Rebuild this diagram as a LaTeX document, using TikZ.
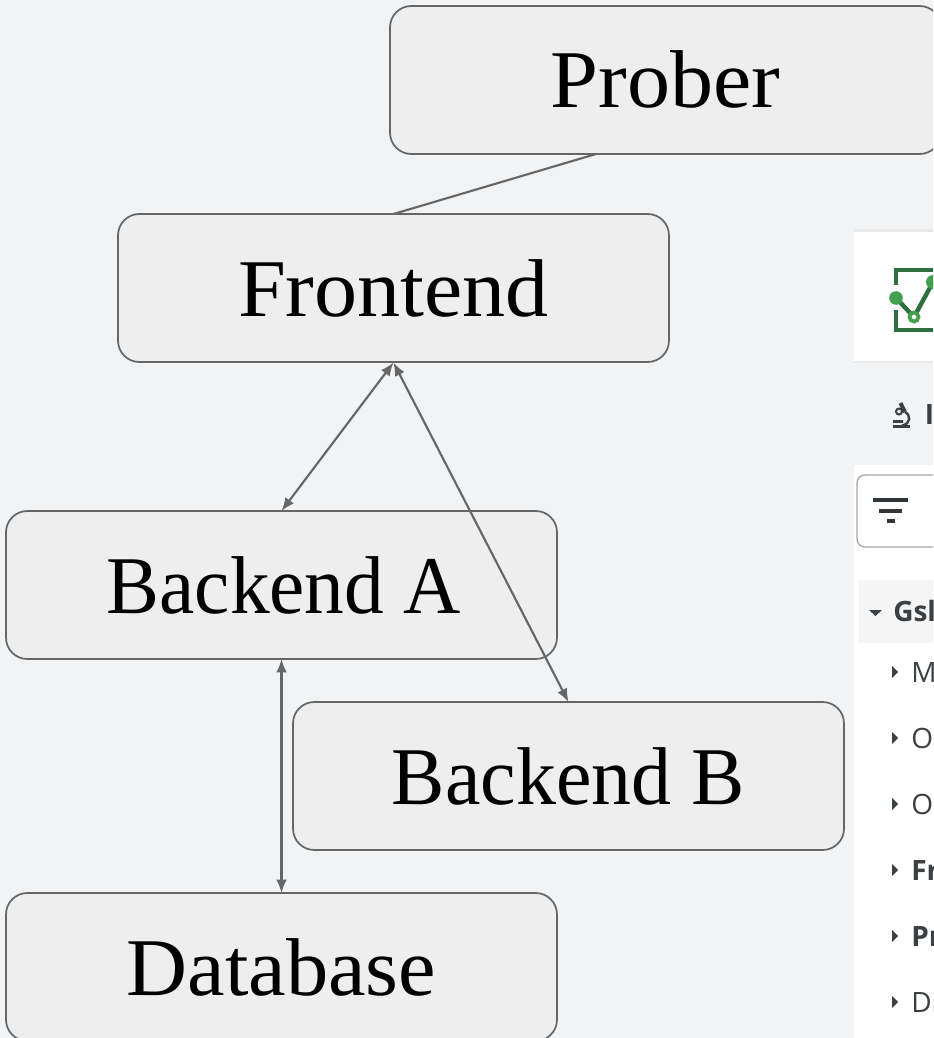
\documentclass[tikz,border=0pt]{standalone}
\usepackage{fontspec}
\setmainfont{Liberation Serif}
\newfontfamily\uifont{Open Sans}
\usetikzlibrary{arrows.meta}
\definecolor{pagebg}{HTML}{F1F3F5}
\definecolor{boxfill}{HTML}{EEEEEE}
\definecolor{edgecol}{HTML}{666666}
\definecolor{bandcol}{HTML}{F1F3F4}
\definecolor{rowcol}{HTML}{F5F5F5}
\definecolor{uitext}{HTML}{3C4043}
\definecolor{logodark}{HTML}{2F6F3E}
\definecolor{logolight}{HTML}{43A04F}
\newcommand{\svclabel}[2]{\scalebox{#1}[1]{#2}}
\tikzset{
  x=0.75pt, y=-0.75pt,
  svcbox/.style={draw=edgecol, fill=boxfill, line width=1.3pt, rounded corners=16pt,
    minimum width=413.25pt, minimum height=111pt, outer sep=0pt, inner sep=0pt,
    text height=42pt, text depth=0pt,
    font=\fontsize{61.5}{66}\selectfont, text=black},
  link/.style={draw=edgecol, line width=1.6pt},
  tip/.style={{Latex[length=10pt,width=8pt]}-{Latex[length=10pt,width=8pt]}},
  uilabel/.style={anchor=base west, inner sep=0pt, text=uitext, font=\uifont\fontsize{21}{24}\selectfont},
  uibold/.style={uilabel, font=\uifont\bfseries\fontsize{21}{24}\selectfont},
  caret/.style={fill=uitext, draw=none},
}
\begin{document}
\begin{tikzpicture}
\useasboundingbox (0,0) rectangle (933,1038);
\clip (0,0) rectangle (933,1038);
\fill[pagebg] (0,0) rectangle (933,1038);
% screenshot panel
\fill[white] (854,231) rectangle (933,1038);
\fill[black!9] (854,229) rectangle (933,232);
\fill[bandcol] (854,362) rectangle (933,465);
\fill[black!8] (854,361) rectangle (933,363);
% logo
\draw[logodark, line width=3pt] (935,270) -- (895.5,270) -- (895.5,285);
\draw[logodark, line width=3pt] (895.5,310) -- (895.5,330) -- (935,330);
\draw[logodark, line width=3.3pt] (896,298) -- (914,317) -- (933,282);
\fill[logolight] (896,298) circle (6.8);
\draw[logolight, fill=white, line width=2.8pt] (914,317) circle (4.5);
\fill[logolight] (933,282) circle (7);
% microscope icon
\draw[uitext, line width=3pt] (900.5,403) -- (905,412);
\draw[uitext, line width=1.5pt] (899,411.5) circle (3);
\draw[uitext, line width=1.8pt] (905,412) .. controls (911,415) and (911,424) .. (902,425.5);
\fill[uitext] (893,420) rectangle (903,422.5);
\fill[uitext] (893,425) rectangle (910,428);
\node[uibold] (tabtext) at (924.5,424) {I};
% filter box
\draw[black!35, fill=white, line width=1pt, rounded corners=6pt] (857,475) -- (857,547) -- (945,547) -- (945,475) -- cycle;
\fill[uitext!85!black] (873,498) rectangle (908,502);
\fill[uitext!85!black] (879,509) rectangle (902,513);
\fill[uitext!85!black] (887,519) rectangle (895,523);
% tree rows
\fill[rowcol] (859,580) rectangle (933,643);
\fill[caret] (869,610) -- (882,610) -- (875.5,616) -- cycle;
\node[uibold] (gs) at (893,621) {Gsl};
\foreach \yy/\lab/\sty/\nm in {672/M/uilabel/ra,738/O/uilabel/rb,804/O/uilabel/rc,870/Fr/uibold/rd,936/Pr/uibold/re,1002/Di/uilabel/rf}{
  \fill[caret] (892,\yy-6) -- (898,\yy) -- (892,\yy+6) -- cycle;
  \node[\sty] (\nm) at (911,\yy+10) {\lab};
}
% service boxes
\node[svcbox] (prober) at (665.5,80) {\svclabel{1.05}{Prober}};
\node[svcbox] (frontend) at (393.5,288) {\svclabel{1.05}{Frontend}};
\node[svcbox] (backenda) at (281.5,585) {\hspace*{3.75pt}\svclabel{0.967}{Backend A}};
\node[svcbox] (backendb) at (568.5,776) {\svclabel{0.975}{Backend B}};
\node[svcbox] (database) at (281.5,967) {\svclabel{1.03}{Database}};
\coordinate (proberfoot) at (596,154);
\coordinate (frontendfoot) at (393.5,362.5);
\draw[link] (proberfoot) -- (frontend.north);
\draw[link, tip] (frontendfoot) -- (backenda.north);
\draw[link, tip] (frontendfoot) -- (backendb.north);
\draw[link, tip] (backenda.south) -- (database.north);
\end{tikzpicture}
\end{document}
